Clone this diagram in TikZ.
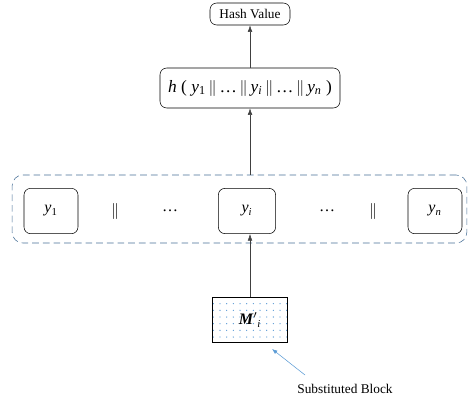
\documentclass[tikz,border=0pt]{standalone}
\usepackage{fontspec}
\setmainfont{Liberation Serif}
\usetikzlibrary{arrows.meta,patterns.meta}
\definecolor{rowblue}{RGB}{70,110,150}
\definecolor{notblue}{RGB}{91,155,213}
\newcommand{\sub}[2]{\textit{#1}\textsubscript{\textit{#2}}}
\newcommand{\cat}{\,$\|$\,}

\begin{document}
\begin{tikzpicture}[x=0.75pt,y=-0.75pt,
    blk/.style={draw,rounded corners=5pt,minimum width=40.5pt,minimum height=34pt,inner sep=0pt},
    link/.style={draw=black!75,-{Latex[length=5pt,width=3.5pt]}}]
    \useasboundingbox (0,0) rectangle (470,397);

    % top part
    \node[blk,minimum width=60pt,minimum height=16.5pt] (hash) at (250,14) {Hash Value};
    \node[blk,minimum width=135pt,minimum height=30pt] (hfun) at (250,88)
        {\fontsize{13}{15}\selectfont\textit{h} ( \textit{y}\textsubscript{1}\cat\dots\cat\sub{y}{i}\cat\dots\cat\sub{y}{n} )};

    % row of blocks
    \node[draw=rowblue,dash pattern=on 5pt off 3pt,rounded corners=8pt,
        minimum width=341pt,minimum height=51pt] (row) at (239.5,209) {};
    \node[blk] (y1) at (51,211) {\large\textit{y}\textsubscript{1}};
    \node (sep1) at (115,211) {\large $\|$};
    \node (dots1) at (170,211) {\large\dots};
    \node[blk,minimum width=43pt] (yi) at (247,211) {\large\sub{y}{i}};
    \node (dots2) at (327,211) {\large\dots};
    \node (sep2) at (373,211) {\large $\|$};
    \node[blk] (yn) at (435,211) {\large\sub{y}{n}};

    % substituted block
    \node[draw,thick,minimum width=56pt,minimum height=34pt,inner sep=0pt,
        pattern={Dots[radius=0.5pt,distance=5pt]},pattern color=notblue] (mblk) at (250,320) {};
    \node at (mblk) {\large\textit{\textbf{M}}$'$\textsubscript{\textit{i}}};
    \node (label) at (345,389) {Substituted Block};
    \coordinate (tail) at (305,375);
    \coordinate (tip) at (272,349);

    \draw[link] (mblk.north) -- (mblk.north |- yi.south);
    \draw[link] (row.north -| hfun.south) -- (hfun.south);
    \draw[link] (hfun.north) -- (hash.south);
    \draw[draw=notblue,-{Latex[length=4pt,width=3pt]}] (tail) -- (tip);
\end{tikzpicture}
\end{document}
